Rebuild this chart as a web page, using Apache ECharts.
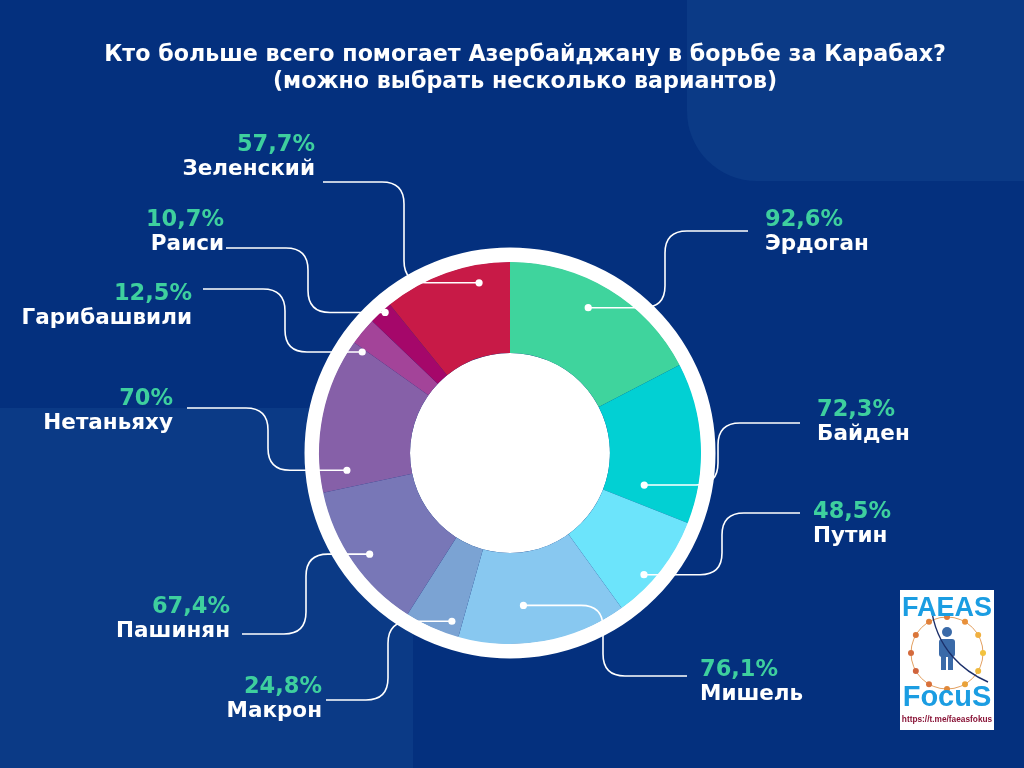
<!DOCTYPE html>
<html><head><meta charset="utf-8">
<script src="https://cdn.jsdelivr.net/npm/echarts@6/dist/echarts.min.js"></script>
<style>html,body{margin:0;padding:0;background:#04307e}#c{width:1024px;height:768px}</style>
</head><body><div id="c"></div>
<script>
// ---- data ----
const names  = ['Эрдоган','Байден','Путин','Мишель','Макрон','Пашинян','Нетаньяху','Гарибашвили','Раиси','Зеленский'];
const values = [92.6, 72.3, 48.5, 76.1, 24.8, 67.4, 70, 12.5, 10.7, 57.7];
const titleLines = ['Кто больше всего помогает Азербайджану в борьбе за Карабах?', '(можно выбрать несколько вариантов)'];

// ---- styles / layout ----
const colors = ['#3fd49d','#02d0d3','#6ce4fb','#88c8f0','#7ba3d3','#7877b7','#8660a8','#a34499','#a5076a','#c81a47'];
const CX = 510, CY = 453, R_IN = 100, R_OUT = 191;
// label anchor: side, x, top y
const labelSide = ['L','L','L','L','R','R','R','R','R','R']; // L = left-aligned text (right of chart)
const labelX    = [765, 817, 813, 700, 322, 230, 173, 192, 224, 315];
const labelTop  = [208, 398, 500, 658, 675, 595, 387, 282, 208, 133];
// connector: dot angle shift (deg), dot radius, vertical x, label line y, end x
const dotShift = [-3, 16.4, 4.4, 5, -5, -1, -17.7, -5.2, 1, 9.2];
const dotR     = [165, 138, 181, 153, 178, 173, 164, 179, 188, 173];
const bendX    = [665, 718, 722, 603, 388, 306, 268, 285, 308, 404];
const lineY    = [231, 423, 513, 676, 700, 634, 408, 289, 248, 182];
const endX     = [748, 800, 800, 687, 326, 242, 187, 203, 226, 323];

const FONT = '"DejaVu Sans", sans-serif';
const total = values.reduce((a, b) => a + b, 0);
const starts = []; values.reduce((acc, v, i) => { starts[i] = acc; return acc + v; }, 0);

function fmtPct(v) { return String(v).replace('.', ',') + '%'; }

function connectorPath(i, ax, ay) {
  const X = bendX[i], Y = lineY[i], D = endX[i];
  const sx = Math.sign(X - ax) || 1, sy = Math.sign(Y - ay) || 1, sx2 = Math.sign(D - X) || 1;
  const r = Math.min(22, Math.abs(X - ax), Math.abs(Y - ay) / 2);
  const r2 = Math.min(22, Math.abs(D - X), Math.abs(Y - ay) / 2);
  return 'M' + ax + ' ' + ay + ' L' + (X - sx * r) + ' ' + ay +
    ' Q' + X + ' ' + ay + ' ' + X + ' ' + (ay + sy * r) +
    ' L' + X + ' ' + (Y - sy * r2) +
    ' Q' + X + ' ' + Y + ' ' + (X + sx2 * r2) + ' ' + Y +
    ' L' + D + ' ' + Y;
}

const chart = echarts.init(document.getElementById('c'), null, { renderer: 'canvas' });

// logo people around circle
const peopleCols = ['#e07a3a','#e8903a','#f0b040','#f2c23e','#eeb83c','#e9a23a','#e0883a','#d8703a','#d0643c','#d46a3c','#da763a','#e0803a'];
const logoPeople = peopleCols.map((col, k) => {
  const a = k / 12 * Math.PI * 2;
  return { type: 'circle', z: 6, shape: { cx: 947 + 36 * Math.sin(a), cy: 653 - 36 * Math.cos(a), r: 3 }, style: { fill: col } };
});

const option = {
  backgroundColor: '#04307e',
  title: {
    text: titleLines.join('\n'),
    left: 520, top: 37, textAlign: 'center',
    textStyle: { color: '#ffffff', fontFamily: FONT, fontWeight: 'bold', fontSize: 22.2, lineHeight: 27 }
  },
  polar: { center: [CX, CY], radius: R_OUT },
  angleAxis: { type: 'value', min: 0, max: total, startAngle: 90, clockwise: true, show: false },
  radiusAxis: { type: 'value', min: 0, max: R_OUT, show: false },
  graphic: [
    { type: 'rect', z: -10, shape: { x: 687, y: -100, width: 500, height: 281, r: 70 }, style: { fill: '#0b3a86' } },
    { type: 'rect', z: -10, shape: { x: -100, y: 408, width: 513, height: 500, r: [0, 70, 0, 0] }, style: { fill: '#0b3a86' } },
    { type: 'circle', z: -5, shape: { cx: CX, cy: CY, r: 198 }, style: { fill: 'none', stroke: '#ffffff', lineWidth: 15 } },
    { type: 'circle', z: -5, shape: { cx: CX, cy: CY, r: R_IN }, style: { fill: '#ffffff' } },
    { type: 'rect', z: 5, shape: { x: 900, y: 590, width: 94, height: 140 }, style: { fill: '#ffffff' } },
    { type: 'circle', z: 6, shape: { cx: 947, cy: 653, r: 36 }, style: { fill: 'none', stroke: '#e3a060', lineWidth: 1 } },
    ...logoPeople,
    { type: 'circle', z: 6, shape: { cx: 947, cy: 632, r: 5 }, style: { fill: '#3a6aa8' } },
    { type: 'rect', z: 6, shape: { x: 939, y: 639, width: 16, height: 18, r: 3 }, style: { fill: '#3a6aa8' } },
    { type: 'rect', z: 6, shape: { x: 941, y: 656, width: 5, height: 14 }, style: { fill: '#3a6aa8' } },
    { type: 'rect', z: 6, shape: { x: 948, y: 656, width: 5, height: 14 }, style: { fill: '#3a6aa8' } },
    { type: 'bezierCurve', z: 6, shape: { x1: 931, y1: 606, cpx1: 936, cpy1: 650, cpx2: 965, cpy2: 672, x2: 988, y2: 682 }, style: { fill: 'none', stroke: '#1b2f6a', lineWidth: 1.4 } },
    { type: 'text', z: 7, style: { x: 947, y: 595, text: 'FAEAS', align: 'center', verticalAlign: 'top', fill: '#1b9de2', font: 'bold 27px "Liberation Sans", sans-serif' } },
    { type: 'text', z: 7, style: { x: 947, y: 683, text: 'FocuS', align: 'center', verticalAlign: 'top', fill: '#1b9de2', font: 'bold 29px "Liberation Sans", sans-serif' } },
    { type: 'text', z: 7, style: { x: 947, y: 716, text: 'https://t.me/faeasfokus', align: 'center', verticalAlign: 'top', fill: '#8a1538', font: 'bold 8.3px "Liberation Sans", sans-serif' } }
  ],
  series: [
    {
      type: 'pie',
      z: 2,
      center: [CX, CY],
      radius: [R_IN, R_OUT],
      startAngle: 90,
      clockwise: true,
      avoidLabelOverlap: false,
      silent: true,
      itemStyle: { borderWidth: 0 },
      data: names.map((n, i) => ({ name: n, value: values[i], itemStyle: { color: colors[i] } })),
      label: {
        show: true,
        position: 'outside',
        formatter: p => {
          const s = labelSide[p.dataIndex];
          return '{p' + s + '|' + fmtPct(p.value) + '}\n{n' + s + '|' + p.name + '}';
        },
        rich: {
          pL: { color: '#3ecf9e', fontFamily: FONT, fontWeight: 'bold', fontSize: 22.5, lineHeight: 24, align: 'left' },
          nL: { color: '#ffffff', fontFamily: FONT, fontWeight: 'bold', fontSize: 21.5, lineHeight: 24, align: 'left' },
          pR: { color: '#3ecf9e', fontFamily: FONT, fontWeight: 'bold', fontSize: 22.5, lineHeight: 24, align: 'right' },
          nR: { color: '#ffffff', fontFamily: FONT, fontWeight: 'bold', fontSize: 21.5, lineHeight: 24, align: 'right' }
        }
      },
      labelLine: { show: false },
      labelLayout: p => {
        const i = p.dataIndex;
        return { x: labelX[i], y: labelTop[i], align: labelSide[i] === 'L' ? 'left' : 'right', verticalAlign: 'top', hideOverlap: false };
      }
    },
    {
      type: 'custom',
      coordinateSystem: 'polar',
      z: 3,
      silent: true,
      data: values.map((v, i) => [dotR[i], starts[i] + v / 2 + dotShift[i] / 360 * total]),
      renderItem: (params, api) => {
        const i = params.dataIndex;
        const pt = api.coord([api.value(0), api.value(1)]);
        return { type: 'group', children: [
          { type: 'path', shape: { pathData: connectorPath(i, pt[0], pt[1]) }, style: { fill: 'none', stroke: '#ffffff', lineWidth: 1.6 } },
          { type: 'circle', shape: { cx: pt[0], cy: pt[1], r: 3.6 }, style: { fill: '#ffffff' } }
        ]};
      }
    }
  ]
};
chart.setOption(option);
</script>
</body></html>
